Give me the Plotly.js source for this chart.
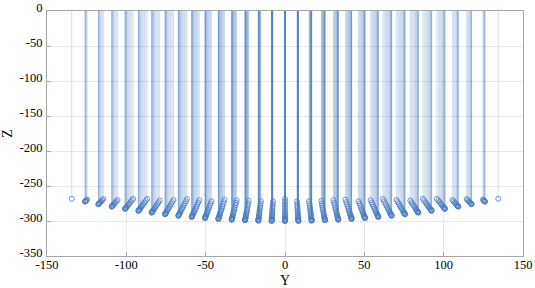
<!DOCTYPE html>
<html><head><meta charset="utf-8">
<script src="https://cdn.plot.ly/plotly-3.0.1.min.js"></script>
<style>html,body{margin:0;padding:0;background:#fff}#chart{width:535px;height:288px}</style>
</head><body><div id="chart"></div>
<script>
// Y positions of the stems (left half, centre, right half)
const stemY = [
-134.4,
-126.0,-126.0,-125.8,-125.5,-125.2,-124.7,
-117.6,-117.6,-117.4,-117.2,-116.8,-116.4,-115.8,-115.2,-114.5,
-109.2,-109.2,-109.0,-108.8,-108.5,-108.1,-107.6,-107.0,-106.3,-105.5,
-100.8,-100.8,-100.6,-100.4,-100.1,-99.7,-99.3,-98.7,-98.1,-97.4,-96.6,-95.7,
-92.4,-92.4,-92.2,-92.0,-91.8,-91.4,-91.0,-90.5,-89.9,-89.3,-88.5,-87.7,-86.9,
-84.0,-84.0,-83.9,-83.7,-83.4,-83.1,-82.7,-82.3,-81.8,-81.2,-80.5,-79.8,-79.0,
-75.6,-75.6,-75.5,-75.3,-75.1,-74.8,-74.5,-74.1,-73.6,-73.0,-72.4,-71.8,-71.1,-70.3,
-67.2,-67.2,-67.1,-66.9,-66.7,-66.5,-66.2,-65.8,-65.4,-64.9,-64.4,-63.8,-63.2,-62.5,-61.8,
-58.8,-58.8,-58.7,-58.6,-58.4,-58.2,-57.9,-57.6,-57.2,-56.8,-56.3,-55.8,-55.3,-54.7,-54.0,
-50.4,-50.4,-50.3,-50.2,-50.1,-49.9,-49.6,-49.4,-49.1,-48.7,-48.3,-47.9,-47.4,-46.9,-46.3,
-42.0,-42.0,-41.9,-41.8,-41.7,-41.6,-41.4,-41.1,-40.9,-40.6,-40.2,-39.9,-39.5,-39.1,-38.6,-38.1,
-33.6,-33.6,-33.5,-33.5,-33.4,-33.2,-33.1,-32.9,-32.7,-32.5,-32.2,-31.9,-31.6,-31.2,-30.9,-30.5,
-25.2,-25.2,-25.2,-25.1,-25.0,-24.9,-24.8,-24.7,-24.5,-24.3,-24.1,-23.9,-23.7,-23.4,-23.2,-22.9,
-16.8,-16.8,-16.8,-16.7,-16.7,-16.6,-16.5,-16.5,-16.4,-16.2,-16.1,-16.0,-15.8,-15.6,-15.4,-15.2,
-8.4,-8.4,-8.4,-8.4,-8.3,-8.3,-8.3,-8.2,-8.2,-8.1,-8.0,-8.0,-7.9,-7.8,-7.7,-7.6,
0,0,0,0,0,0,0,0,0,0,0,0,0,0,0,0,0,
8.4,8.4,8.4,8.4,8.3,8.3,8.3,8.2,8.2,8.1,8.0,8.0,7.9,7.8,7.7,7.6,
16.8,16.8,16.8,16.7,16.7,16.6,16.5,16.5,16.4,16.2,16.1,16.0,15.8,15.6,15.4,15.2,
25.2,25.2,25.2,25.1,25.0,24.9,24.8,24.7,24.5,24.3,24.1,23.9,23.7,23.4,23.2,22.9,
33.6,33.6,33.5,33.5,33.4,33.2,33.1,32.9,32.7,32.5,32.2,31.9,31.6,31.2,30.9,30.5,
42.0,42.0,41.9,41.8,41.7,41.6,41.4,41.1,40.9,40.6,40.2,39.9,39.5,39.1,38.6,38.1,
50.4,50.4,50.3,50.2,50.1,49.9,49.6,49.4,49.1,48.7,48.3,47.9,47.4,46.9,46.3,
58.8,58.8,58.7,58.6,58.4,58.2,57.9,57.6,57.2,56.8,56.3,55.8,55.3,54.7,54.0,
67.2,67.2,67.1,66.9,66.7,66.5,66.2,65.8,65.4,64.9,64.4,63.8,63.2,62.5,61.8,
75.6,75.6,75.5,75.3,75.1,74.8,74.5,74.1,73.6,73.0,72.4,71.8,71.1,70.3,
84.0,84.0,83.9,83.7,83.4,83.1,82.7,82.3,81.8,81.2,80.5,79.8,79.0,
92.4,92.4,92.2,92.0,91.8,91.4,91.0,90.5,89.9,89.3,88.5,87.7,86.9,
100.8,100.8,100.6,100.4,100.1,99.7,99.3,98.7,98.1,97.4,96.6,95.7,
109.2,109.2,109.0,108.8,108.5,108.1,107.6,107.0,106.3,105.5,
117.6,117.6,117.4,117.2,116.8,116.4,115.8,115.2,114.5,
126.0,126.0,125.8,125.5,125.2,124.7,
134.4
];
// Z values at the tip of each stem
const stemZ = [
-268.2,
-272.3,-272.2,-271.8,-271.2,-270.4,-269.4,
-276.0,-275.9,-275.5,-274.9,-274.1,-273.1,-271.8,-270.3,-268.6,
-279.4,-279.3,-278.9,-278.4,-277.5,-276.5,-275.2,-273.7,-272.0,-270.0,
-282.6,-282.4,-282.1,-281.5,-280.7,-279.6,-278.3,-276.8,-275.0,-273.0,-270.8,-268.3,
-285.4,-285.3,-284.9,-284.3,-283.5,-282.4,-281.1,-279.6,-277.8,-275.8,-273.5,-271.0,-268.4,
-288.0,-287.9,-287.5,-286.9,-286.1,-285.0,-283.7,-282.1,-280.3,-278.3,-276.0,-273.5,-270.8,
-290.3,-290.2,-289.8,-289.2,-288.4,-287.3,-285.9,-284.4,-282.6,-280.5,-278.2,-275.7,-273.0,-270.0,
-292.4,-292.3,-291.9,-291.3,-290.4,-289.3,-288.0,-286.4,-284.6,-282.5,-280.2,-277.6,-274.9,-271.9,-268.7,
-294.2,-294.1,-293.7,-293.1,-292.2,-291.1,-289.7,-288.2,-286.3,-284.2,-281.9,-279.4,-276.6,-273.6,-270.3,
-295.7,-295.6,-295.2,-294.6,-293.8,-292.6,-291.3,-289.7,-287.8,-285.7,-283.4,-280.8,-278.1,-275.0,-271.8,
-297.0,-296.9,-296.5,-295.9,-295.1,-293.9,-292.6,-291.0,-289.1,-287.0,-284.7,-282.1,-279.3,-276.2,-273.0,-269.4,
-298.1,-298.0,-297.6,-297.0,-296.1,-295.0,-293.6,-292.0,-290.2,-288.0,-285.7,-283.1,-280.3,-277.2,-273.9,-270.4,
-298.9,-298.8,-298.4,-297.8,-296.9,-295.8,-294.4,-292.8,-291.0,-288.8,-286.5,-283.9,-281.1,-278.0,-274.7,-271.1,
-299.5,-299.4,-299.0,-298.4,-297.5,-296.4,-295.0,-293.4,-291.5,-289.4,-287.0,-284.4,-281.6,-278.5,-275.2,-271.7,
-299.9,-299.8,-299.4,-298.7,-297.9,-296.7,-295.4,-293.7,-291.9,-289.7,-287.4,-284.8,-282.0,-278.9,-275.6,-272.0,
-300.0,-299.9,-299.5,-298.9,-298.0,-296.9,-295.5,-293.9,-292.0,-289.9,-287.5,-284.9,-282.1,-279.0,-275.7,-272.1,-268.4,
-299.9,-299.8,-299.4,-298.7,-297.9,-296.7,-295.4,-293.7,-291.9,-289.7,-287.4,-284.8,-282.0,-278.9,-275.6,-272.0,
-299.5,-299.4,-299.0,-298.4,-297.5,-296.4,-295.0,-293.4,-291.5,-289.4,-287.0,-284.4,-281.6,-278.5,-275.2,-271.7,
-298.9,-298.8,-298.4,-297.8,-296.9,-295.8,-294.4,-292.8,-291.0,-288.8,-286.5,-283.9,-281.1,-278.0,-274.7,-271.1,
-298.1,-298.0,-297.6,-297.0,-296.1,-295.0,-293.6,-292.0,-290.2,-288.0,-285.7,-283.1,-280.3,-277.2,-273.9,-270.4,
-297.0,-296.9,-296.5,-295.9,-295.1,-293.9,-292.6,-291.0,-289.1,-287.0,-284.7,-282.1,-279.3,-276.2,-273.0,-269.4,
-295.7,-295.6,-295.2,-294.6,-293.8,-292.6,-291.3,-289.7,-287.8,-285.7,-283.4,-280.8,-278.1,-275.0,-271.8,
-294.2,-294.1,-293.7,-293.1,-292.2,-291.1,-289.7,-288.2,-286.3,-284.2,-281.9,-279.4,-276.6,-273.6,-270.3,
-292.4,-292.3,-291.9,-291.3,-290.4,-289.3,-288.0,-286.4,-284.6,-282.5,-280.2,-277.6,-274.9,-271.9,-268.7,
-290.3,-290.2,-289.8,-289.2,-288.4,-287.3,-285.9,-284.4,-282.6,-280.5,-278.2,-275.7,-273.0,-270.0,
-288.0,-287.9,-287.5,-286.9,-286.1,-285.0,-283.7,-282.1,-280.3,-278.3,-276.0,-273.5,-270.8,
-285.4,-285.3,-284.9,-284.3,-283.5,-282.4,-281.1,-279.6,-277.8,-275.8,-273.5,-271.0,-268.4,
-282.6,-282.4,-282.1,-281.5,-280.7,-279.6,-278.3,-276.8,-275.0,-273.0,-270.8,-268.3,
-279.4,-279.3,-278.9,-278.4,-277.5,-276.5,-275.2,-273.7,-272.0,-270.0,
-276.0,-275.9,-275.5,-274.9,-274.1,-273.1,-271.8,-270.3,-268.6,
-272.3,-272.2,-271.8,-271.2,-270.4,-269.4,
-268.2
];
const xTickVals = [-150,-100,-50,0,50,100,150];
const xTickText = ['-150','-100','-50','0','50','100','150'];
const yTickVals = [-350,-300,-250,-200,-150,-100,-50,0];
const yTickText = ['-350','-300','-250','-200','-150','-100','-50','0'];

const stemUp = stemZ.map(z => -z);
const stemDown = stemZ.map(() => 0);

const trace = {
  type: 'scatter', mode: 'markers',
  x: stemY, y: stemZ,
  marker: {symbol: 'circle-open', size: 5, color: '#4a7cc0', line: {width: 0.8}},
  error_y: {type: 'data', symmetric: false, array: stemUp, arrayminus: stemDown,
            color: 'rgba(70,120,195,0.28)', thickness: 0.9, width: 0},
  hoverinfo: 'skip', showlegend: false
};

const axisCommon = {
  showline: true, linecolor: '#a6a6a6', linewidth: 1, mirror: true,
  ticks: 'inside', ticklen: 4, tickcolor: '#a6a6a6',
  showgrid: true, gridcolor: '#e8e8e8', zeroline: false,
  automargin: false
};

const layout = {
  width: 535, height: 288,
  margin: {l: 47, r: 12, t: 11, b: 32},
  paper_bgcolor: '#fff', plot_bgcolor: '#fff',
  font: {family: 'Liberation Serif, serif', color: '#000'},
  xaxis: Object.assign({}, axisCommon, {
    range: [-150, 150], tickvals: xTickVals, ticktext: xTickText,
    tickfont: {family: 'Liberation Serif, serif', size: 12.5, color: '#000'},
    ticklabelstandoff: -3,
    title: {text: 'Y', font: {family: 'Liberation Serif, serif', size: 14, color: '#000'}}
  }),
  yaxis: Object.assign({}, axisCommon, {
    range: [-350, 0], tickvals: yTickVals, ticktext: yTickText,
    tickfont: {family: 'Liberation Serif, serif', size: 12.5, color: '#000'},
    ticklabelshift: -3, ticklabelstandoff: 1, ticklabeloverflow: 'allow',
    title: {text: 'Z', font: {family: 'Liberation Serif, serif', size: 14, color: '#000'}}
  })
};

Plotly.newPlot('chart', [trace], layout, {displayModeBar: false, staticPlot: true});
</script>
</body></html>
